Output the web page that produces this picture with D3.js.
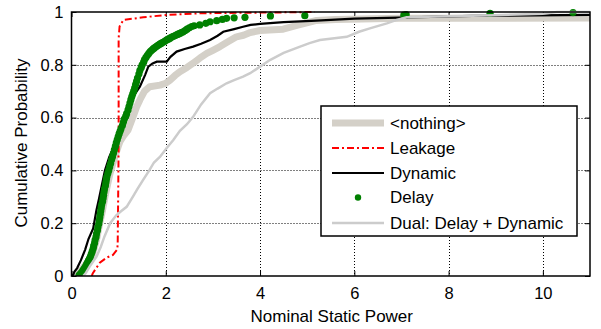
<!DOCTYPE html>
<html>
<head>
<meta charset="utf-8">
<script src="https://cdn.jsdelivr.net/npm/d3@7"></script>
<style>
  html, body { margin: 0; padding: 0; background: #fff; }
  svg { display: block; font-family: Arial, "Liberation Sans", sans-serif; }
</style>
</head>
<body>
<svg id="chart" width="601" height="329"></svg>
<script>
// Empirical CDFs of nominal static power under different optimisation goals.
// Each pair is [power, cumulative probability].
const nothingCdf = [
  [0.10,0],[0.15,0.01],[0.24,0.03],[0.32,0.048],[0.43,0.073],[0.53,0.136],[0.60,0.20],
  [0.66,0.25],[0.71,0.30],[0.77,0.35],[0.82,0.39],[0.92,0.452],[0.99,0.49],[1.03,0.51],
  [1.10,0.53],[1.20,0.553],[1.30,0.60],[1.38,0.64],[1.45,0.667],[1.55,0.70],[1.66,0.717],
  [1.88,0.723],[2.00,0.73],[2.09,0.742],[2.20,0.76],[2.30,0.774],[2.45,0.79],[2.58,0.806],
  [2.72,0.825],[2.87,0.843],[3.00,0.855],[3.15,0.869],[3.30,0.885],[3.50,0.906],[3.65,0.912],
  [3.79,0.922],[4.00,0.93],[4.49,0.935],[4.80,0.95],[5.20,0.968],[5.60,0.972],[6.97,0.976],
  [11,0.977]
];
const leakageCdf = [
  [0.43,0],[0.45,0.01],[0.60,0.05],[0.75,0.07],[0.88,0.08],[0.97,0.10],[0.98,0.12],
  [0.99,0.30],[1.00,0.50],[1.00,0.90],[1.02,0.945],[1.10,0.97],[1.52,0.98],[2.02,0.989],
  [2.72,0.995],[3.50,0.997],[4.20,0.998],[5.16,1.0]
];
const dynamicCdf = [
  [0.00,0],[0.04,0.005],[0.06,0.016],[0.12,0.03],[0.20,0.06],[0.29,0.10],[0.36,0.14],
  [0.46,0.18],[0.53,0.25],[0.58,0.29],[0.65,0.35],[0.71,0.40],[0.80,0.45],[0.90,0.49],
  [0.99,0.515],[1.08,0.56],[1.17,0.603],[1.24,0.64],[1.31,0.68],[1.45,0.717],[1.56,0.761],
  [1.63,0.793],[1.72,0.805],[1.81,0.812],[2.02,0.812],[2.10,0.83],[2.23,0.85],[2.40,0.86],
  [2.58,0.869],[2.75,0.88],[2.94,0.894],[3.10,0.91],[3.22,0.925],[3.45,0.935],[3.64,0.944],
  [3.80,0.951],[4.00,0.955],[4.50,0.962],[5.20,0.967],[6.00,0.975],[7.18,0.98],[8.50,0.985],
  [11,0.989]
];
const delayCdf = [
  [0.16,0.002],[0.18,0.006],[0.20,0.010],[0.22,0.015],[0.24,0.020],[0.26,0.025],[0.28,0.031],
  [0.30,0.037],[0.32,0.044],[0.34,0.051],[0.36,0.058],[0.38,0.065],[0.40,0.073],[0.42,0.083],
  [0.44,0.093],[0.46,0.104],[0.47,0.114],[0.49,0.125],[0.50,0.136],[0.52,0.148],[0.53,0.160],
  [0.55,0.172],[0.56,0.185],[0.58,0.198],[0.59,0.210],[0.60,0.222],[0.61,0.234],[0.62,0.246],
  [0.63,0.258],[0.64,0.270],[0.66,0.282],[0.67,0.294],[0.68,0.306],[0.69,0.318],[0.70,0.330],
  [0.72,0.342],[0.73,0.354],[0.74,0.366],[0.75,0.376],[0.77,0.388],[0.79,0.400],[0.81,0.413],
  [0.83,0.426],[0.85,0.440],[0.87,0.452],[0.89,0.465],[0.91,0.478],[0.93,0.491],[0.95,0.504],
  [0.97,0.516],[0.99,0.527],[1.01,0.538],[1.03,0.548],[1.05,0.558],[1.08,0.570],[1.10,0.582],
  [1.12,0.594],[1.15,0.605],[1.17,0.615],[1.20,0.629],[1.22,0.642],[1.24,0.655],[1.26,0.668],
  [1.28,0.680],[1.30,0.690],[1.32,0.700],[1.34,0.712],[1.36,0.725],[1.38,0.737],[1.40,0.750],
  [1.43,0.765],[1.45,0.778],[1.48,0.790],[1.50,0.800],[1.53,0.810],[1.55,0.820],[1.58,0.828],
  [1.61,0.836],[1.64,0.843],[1.67,0.850],[1.70,0.855],[1.73,0.860],[1.76,0.864],[1.79,0.868],
  [1.82,0.872],[1.85,0.876],[1.88,0.879],[1.91,0.882],[1.94,0.885],[1.97,0.888],[2.00,0.892],
  [2.03,0.895],[2.06,0.898],[2.09,0.901],[2.12,0.904],[2.15,0.907],[2.18,0.909],[2.21,0.912],
  [2.24,0.914],[2.27,0.917],[2.30,0.919],[2.33,0.922],[2.37,0.925],[2.41,0.930],[2.45,0.935],
  [2.50,0.940],[2.55,0.945],[2.60,0.948],[2.72,0.951],[2.85,0.957],[2.94,0.963],[3.08,0.967],
  [3.20,0.972],[3.29,0.976],[3.45,0.978],[3.68,0.98],[4.22,0.985],[4.95,0.986],[7.05,0.988],
  [7.10,0.990],[8.88,0.995],[10.64,0.998]
];
const dualCdf = [
  [0.25,0],[0.30,0.01],[0.40,0.04],[0.53,0.073],[0.62,0.11],[0.70,0.15],[0.82,0.20],
  [0.95,0.23],[1.05,0.245],[1.17,0.262],[1.30,0.30],[1.40,0.33],[1.52,0.364],[1.65,0.40],
  [1.75,0.43],[1.88,0.452],[2.02,0.485],[2.16,0.515],[2.30,0.55],[2.45,0.575],[2.58,0.603],
  [2.75,0.65],[2.94,0.692],[3.10,0.71],[3.29,0.73],[3.45,0.742],[3.64,0.755],[3.79,0.768],
  [4.00,0.793],[4.21,0.818],[4.50,0.845],[4.85,0.869],[5.05,0.882],[5.27,0.894],[5.84,0.906],
  [6.10,0.925],[6.33,0.938],[6.69,0.957],[6.90,0.97],[7.11,0.98],[8.00,0.984],[9.00,0.988],
  [10.00,0.993],[10.30,1.0],[11,1.0]
];

const xTicks = [0, 2, 4, 6, 8, 10];
const yTicks = [0, 0.2, 0.4, 0.6, 0.8, 1];
const yTickLabels = ["0", "0.2", "0.4", "0.6", "0.8", "1"];
const legendLabels = ["<nothing>", "Leakage", "Dynamic", "Delay", "Dual: Delay + Dynamic"];
const xTitle = "Nominal Static Power";
const yTitle = "Cumulative Probability";

const svg = d3.select("#chart");
const plot = { left: 71.5, right: 590, top: 12, bottom: 276 };

const x = d3.scaleLinear().domain([0, 11]).range([plot.left, plot.right]);
const y = d3.scaleLinear().domain([0, 1]).range([plot.bottom, plot.top]);

svg.append("defs").append("clipPath").attr("id", "plotClip")
  .append("rect")
  .attr("x", plot.left).attr("y", plot.top - 4)
  .attr("width", plot.right - plot.left).attr("height", plot.bottom - plot.top + 4);

// Dotted grid
const grid = svg.append("g").attr("stroke", "#000").attr("stroke-width", 1)
  .attr("stroke-dasharray", "1,2").attr("fill", "none");
xTicks.filter(d => d > 0).forEach(d => {
  grid.append("line").attr("x1", Math.round(x(d)) + 0.5).attr("x2", Math.round(x(d)) + 0.5)
    .attr("y1", plot.top).attr("y2", plot.bottom);
});
yTicks.filter(d => d > 0 && d < 1).forEach(d => {
  grid.append("line").attr("y1", Math.round(y(d)) + 0.5).attr("y2", Math.round(y(d)) + 0.5)
    .attr("x1", plot.left).attr("x2", plot.right);
});

// Axes with inward ticks
const xAxis = d3.axisBottom(x).tickValues(xTicks).tickSize(-5).tickPadding(11).tickFormat(d3.format("d"));
const yAxis = d3.axisLeft(y).tickValues(yTicks).tickSize(-5).tickPadding(8)
  .tickFormat((d, i) => yTickLabels[i]);

const gx = svg.append("g").attr("transform", `translate(0,${plot.bottom})`).call(xAxis);
const gy = svg.append("g").attr("transform", `translate(${plot.left},0)`).call(yAxis);
[gx, gy].forEach(g => {
  g.select(".domain").remove();
  g.selectAll("line").attr("stroke", "#000");
  g.selectAll("text").attr("fill", "#000").style("font-size", "16.5px");
});
// top and right inward ticks
svg.append("g").attr("transform", `translate(0,${plot.top})`)
  .call(d3.axisTop(x).tickValues(xTicks).tickSize(-5).tickFormat(""))
  .call(g => g.select(".domain").remove());
svg.append("g").attr("transform", `translate(${plot.right},0)`)
  .call(d3.axisRight(y).tickValues(yTicks).tickSize(-5).tickFormat(""))
  .call(g => g.select(".domain").remove());

const series = svg.append("g").attr("clip-path", "url(#plotClip)");
const line = d3.line().x(d => x(d[0])).y(d => y(d[1]));

series.append("path").datum(nothingCdf).attr("d", line)
  .attr("fill", "none").attr("stroke", "#d4d0c8").attr("stroke-width", 7)
  .attr("stroke-linejoin", "round");
series.append("path").datum(leakageCdf).attr("d", line)
  .attr("fill", "none").attr("stroke", "#ff0000").attr("stroke-width", 2)
  .attr("stroke-dasharray", "7,3,2,3");
series.append("path").datum(dynamicCdf).attr("d", line)
  .attr("fill", "none").attr("stroke", "#000").attr("stroke-width", 2.2);
series.append("g").selectAll("circle").data(delayCdf).join("circle")
  .attr("cx", d => x(d[0])).attr("cy", d => y(d[1])).attr("r", 3.6)
  .attr("fill", "#008000");
series.append("path").datum(dualCdf).attr("d", line)
  .attr("fill", "none").attr("stroke", "#cccccc").attr("stroke-width", 2.5);

// Plot frame
svg.append("rect").attr("x", plot.left).attr("y", plot.top)
  .attr("width", plot.right - plot.left).attr("height", plot.bottom - plot.top)
  .attr("fill", "none").attr("stroke", "#000").attr("stroke-width", 1.5);

// Axis titles
svg.append("text").attr("x", (plot.left + plot.right) / 2 + 1).attr("y", 322)
  .attr("text-anchor", "middle").style("font-size", "17px").text(xTitle);
svg.append("text").attr("transform", `translate(27,${(plot.top + plot.bottom) / 2 - 1}) rotate(-90)`)
  .attr("text-anchor", "middle").style("font-size", "17px").text(yTitle);

// Legend
const legend = svg.append("g");
legend.append("rect").attr("x", 321).attr("y", 106).attr("width", 256).attr("height", 130)
  .attr("fill", "#fff").attr("stroke", "#000").attr("stroke-width", 1.5);
const rowY = [123, 148, 173, 197.5, 223];
const sampleStyles = [
  { stroke: "#d4d0c8", width: 7 },
  { stroke: "#ff0000", width: 2, dash: "7,3,2,3" },
  { stroke: "#000", width: 2.2 },
  null,
  { stroke: "#cccccc", width: 2.5 }
];
legendLabels.forEach((lab, i) => {
  const s = sampleStyles[i];
  if (s) {
    legend.append("line").attr("x1", 332).attr("x2", 384).attr("y1", rowY[i]).attr("y2", rowY[i])
      .attr("stroke", s.stroke).attr("stroke-width", s.width)
      .attr("stroke-dasharray", s.dash || null);
  } else {
    legend.append("circle").attr("cx", 358).attr("cy", rowY[i]).attr("r", 3.2).attr("fill", "#008000");
  }
  legend.append("text").attr("x", 390).attr("y", rowY[i]).attr("dy", "0.35em")
    .style("font-size", "17px").text(lab);
});
</script>
</body>
</html>
